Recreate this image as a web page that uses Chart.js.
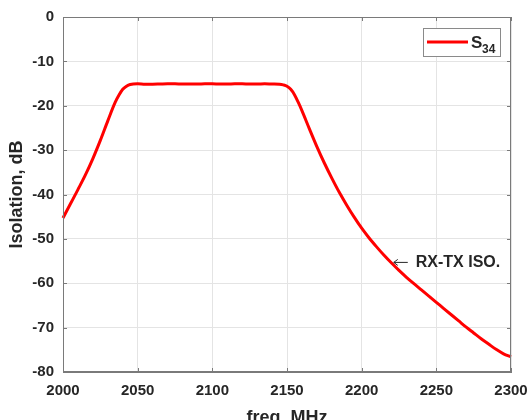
<!DOCTYPE html>
<html>
<head>
<meta charset="utf-8">
<script src="https://cdn.jsdelivr.net/npm/chart.js@4.4.1/dist/chart.umd.min.js"></script>
<style>
  html, body { margin: 0; padding: 0; background: #fff; }
  #wrap { width: 531px; height: 420px; }
</style>
</head>
<body>
<div id="wrap"><canvas id="chartIso"></canvas></div>
<script>
// Datos (frecuencia en MHz, aislamiento en dB)
const freqMHz = [
  2000, 2005, 2010, 2015, 2020, 2025, 2030, 2035, 2037.5, 2040, 2042.5, 2045,
  2050, 2055, 2060, 2065, 2070, 2075, 2080, 2085, 2090, 2095,
  2100, 2105, 2110, 2115, 2120, 2125, 2130, 2135, 2140, 2145, 2147.5,
  2150, 2152.5, 2155, 2157.5, 2160, 2165, 2170, 2175, 2180, 2185, 2190, 2195,
  2200, 2205, 2210, 2215, 2220, 2225, 2230, 2235, 2240, 2245,
  2250, 2255, 2260, 2265, 2270, 2275, 2280, 2285, 2290, 2295, 2300
];
const isolationDb = [
  -45.3, -42.1, -38.9, -35.6, -31.9, -27.8, -23.4, -19.2, -17.6, -16.3, -15.6, -15.2,
  -15.05, -15.15, -15.15, -15.1, -15.05, -15.05, -15.1, -15.1, -15.1, -15.05,
  -15.05, -15.1, -15.1, -15.05, -15.05, -15.1, -15.1, -15.05, -15.1, -15.15, -15.3,
  -15.6, -16.3, -17.5, -19.2, -21.1, -25.2, -29.2, -32.9, -36.3, -39.5, -42.4, -45.1,
  -47.6, -49.8, -51.8, -53.7, -55.45, -57.1, -58.65, -60.1, -61.5, -62.9,
  -64.3, -65.7, -67.1, -68.5, -69.9, -71.2, -72.5, -73.7, -74.9, -75.9, -76.6
];
const xTicks = [2000, 2050, 2100, 2150, 2200, 2250, 2300];
const yTicks = [0, -10, -20, -30, -40, -50, -60, -70, -80];
const seriesName = 'S';
const seriesSub = '34';
const noteText = 'RX-TX ISO.';
const notePoint = { x: 2221.5, y: -55.3 };

const FONT = "'Liberation Sans', Arial, Helvetica, sans-serif";
const TXT = '#262626';
const AXIS = '#7a7a7a';

// Marco completo y marcas hacia adentro (estilo MATLAB)
const framePlugin = {
  id: 'frame',
  afterDatasetsDraw(chart) {
    const { ctx, chartArea: a, scales: { x, y } } = chart;
    ctx.save();
    ctx.strokeStyle = AXIS;
    ctx.lineWidth = 1;
    ctx.strokeRect(Math.round(a.left) + 0.5, Math.round(a.top) + 0.5,
      Math.round(a.right - a.left) - 1, Math.round(a.bottom - a.top) - 1);
    ctx.beginPath();
    xTicks.forEach(v => {
      const px = Math.round(x.getPixelForValue(v)) + 0.5;
      ctx.moveTo(px, a.top); ctx.lineTo(px, a.top + 4);
      ctx.moveTo(px, a.bottom); ctx.lineTo(px, a.bottom - 4);
    });
    yTicks.forEach(v => {
      const py = Math.round(y.getPixelForValue(v)) + 0.5;
      ctx.moveTo(a.left, py); ctx.lineTo(a.left + 4, py);
      ctx.moveTo(a.right, py); ctx.lineTo(a.right - 4, py);
    });
    ctx.stroke();
    ctx.restore();
  }
};

// Leyenda con subíndice
const legendPlugin = {
  id: 'legendSub',
  afterDraw(chart) {
    const { ctx, chartArea: a } = chart;
    const bx = a.right - 88, by = a.top + 11, bw = 77, bh = 28;
    ctx.save();
    ctx.fillStyle = '#fff';
    ctx.fillRect(bx, by, bw, bh);
    ctx.strokeStyle = '#8a8a8a';
    ctx.lineWidth = 1;
    ctx.strokeRect(bx + 0.5, by + 0.5, bw, bh);
    ctx.strokeStyle = '#ff0000';
    ctx.lineWidth = 3;
    ctx.beginPath();
    ctx.moveTo(bx + 4, by + 14);
    ctx.lineTo(bx + 45, by + 14);
    ctx.stroke();
    ctx.fillStyle = TXT;
    ctx.textBaseline = 'alphabetic';
    ctx.font = 'bold 17px ' + FONT;
    ctx.fillText(seriesName, bx + 48, by + 20);
    ctx.font = 'bold 12px ' + FONT;
    ctx.fillText(seriesSub, bx + 59, by + 25);
    ctx.restore();
  }
};

// Anotación con flecha
const notePlugin = {
  id: 'note',
  afterDraw(chart) {
    const { ctx, scales: { x, y } } = chart;
    const px = x.getPixelForValue(notePoint.x);
    const py = y.getPixelForValue(notePoint.y);
    ctx.save();
    ctx.strokeStyle = TXT;
    ctx.lineWidth = 1;
    ctx.beginPath();
    ctx.moveTo(px, py); ctx.lineTo(px + 14, py);
    ctx.moveTo(px, py); ctx.lineTo(px + 4, py - 3);
    ctx.moveTo(px, py); ctx.lineTo(px + 4, py + 3);
    ctx.stroke();
    ctx.fillStyle = TXT;
    ctx.font = 'bold 16px ' + FONT;
    ctx.textBaseline = 'middle';
    ctx.fillText(noteText, px + 22, py);
    ctx.restore();
  }
};

new Chart(document.getElementById('chartIso').getContext('2d'), {
  type: 'line',
  data: {
    datasets: [{
      label: seriesName + seriesSub,
      data: freqMHz.map((f, i) => ({ x: f, y: isolationDb[i] })),
      borderColor: '#ff0000',
      borderWidth: 3,
      pointRadius: 0,
      fill: false,
      cubicInterpolationMode: 'monotone',
      clip: 4
    }]
  },
  options: {
    responsive: true, maintainAspectRatio: false, animation: false,
    layout: { padding: { top: 17, right: 20, left: 0, bottom: 0 } },
    plugins: { legend: { display: false }, tooltip: { enabled: false } },
    scales: {
      x: {
        type: 'linear', min: 2000, max: 2300,
        afterFit: s => { s.height = 48; s.paddingLeft = 0; s.paddingRight = 0; },
        afterBuildTicks: s => { s.ticks = xTicks.map(v => ({ value: v })); },
        grid: { color: '#e4e4e4', drawTicks: false },
        border: { color: AXIS },
        ticks: { color: TXT, padding: 10, maxRotation: 0, callback: v => String(v),
          font: { family: FONT, size: 15, weight: 'bold' } },
        title: { display: true, text: 'freq, MHz', color: TXT, padding: { top: 0, bottom: -9 },
          font: { family: FONT, size: 18, weight: 'bold' } }
      },
      y: {
        type: 'linear', min: -80, max: 0,
        afterFit: s => { s.width = 63; s.paddingTop = 0; s.paddingBottom = 0; },
        afterBuildTicks: s => { s.ticks = yTicks.map(v => ({ value: v })); },
        grid: { color: '#e4e4e4', drawTicks: false },
        border: { color: AXIS },
        ticks: { color: TXT, padding: 9, callback: v => String(v),
          font: { family: FONT, size: 15, weight: 'bold' } },
        title: { display: true, text: 'Isolation, dB', color: TXT, padding: { top: 6, bottom: 0 },
          font: { family: FONT, size: 18, weight: 'bold' } }
      }
    }
  },
  plugins: [framePlugin, legendPlugin, notePlugin]
});
</script>
</body>
</html>
